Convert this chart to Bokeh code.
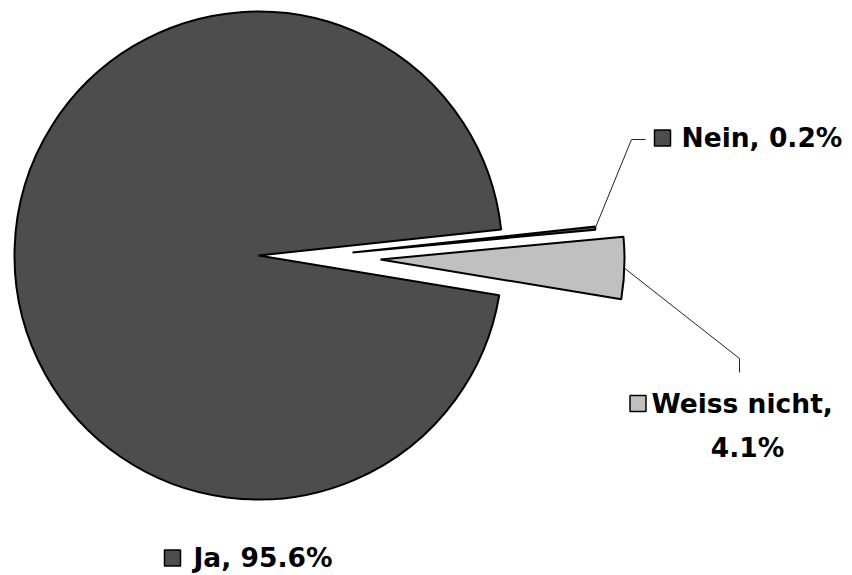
import math
from bokeh.plotting import figure
from bokeh.models import Range1d
from bokeh.core.properties import value
from bokeh.embed import file_html
from bokeh.resources import INLINE

# ---- data ----
labels = ["Ja", "Nein", "Weiss nicht"]
values = [95.6, 0.2, 4.1]

# ---- styles / layout ----
fills = ["#4d4d4d", "#4d4d4d", "#c0c0c0"]
START_DEG = -9.4            # where the first (counter-clockwise) slice begins
ORDER = [2, 1, 0]           # drawing order counter-clockwise
R = 244
# slice centres in page pixels (exploded slices)
centres_px = [(258, 255), (352, 252), (380, 259)]

W, H = 852, 575
p = figure(width=W, height=H, output_backend="svg", toolbar_location=None,
           x_range=Range1d(0, W), y_range=Range1d(0, H),
           min_border=0, outline_line_color=None, background_fill_color="white",
           border_fill_color="white")
p.axis.visible = False
p.grid.visible = False

def Y(sy):
    return H - sy

total = sum(values)
starts = [0.0] * len(values)
ends = [0.0] * len(values)
a = START_DEG
for i in ORDER:
    span = values[i] / total * 360.0
    starts[i] = a
    ends[i] = a + span
    a += span

for i in [0, 2, 1]:
    cx, cy = centres_px[i]
    p.wedge(x=[cx], y=[Y(cy)], radius=R,
            start_angle=math.radians(starts[i]), end_angle=math.radians(ends[i]),
            direction="anticlock",
            fill_color=fills[i], line_color="black", line_width=2)

def outer_mid(i):
    cx, cy = centres_px[i]
    m = math.radians((starts[i] + ends[i]) / 2)
    return cx + R * math.cos(m), Y(cy) + R * math.sin(m)

# leader lines
nx, ny = outer_mid(1)
p.line([nx, 631, 645], [ny, Y(139), Y(139)], line_color="#222222", line_width=1)
wx, wy = outer_mid(2)
p.line([wx, 739, 739], [wy, Y(358), Y(372)], line_color="#222222", line_width=1)

FONT = value("DejaVu Sans")
FS = "26.5px"
TXT_SHIFT = -10   # compensation for renderer baseline offset

def square(x, sy, i, size=16):
    p.rect(x=[x], y=[Y(sy)], width=size, height=size, fill_color=fills[i],
           line_color="black", line_width=1.5)

def txt(x, sy, s, align="left"):
    p.text(x=[x], y=[Y(sy + TXT_SHIFT)], text=[s], text_font=FONT, text_font_style="bold",
           text_font_size=FS, text_color="black", text_align=align,
           text_baseline="alphabetic")

# Nein label
square(662, 137.5, 1)
txt(681, 147, f"{labels[1]}, {values[1]}%")
# Weiss nicht label (two lines)
square(637.5, 403, 2)
txt(651, 413, f"{labels[2]},")
txt(747, 457, f"{values[2]}%", align="center")
# Ja label
square(172, 557.5, 0)
txt(193, 567, f"{labels[0]}, {values[0]}%")

open("out.html", "w").write(file_html(p, INLINE))
